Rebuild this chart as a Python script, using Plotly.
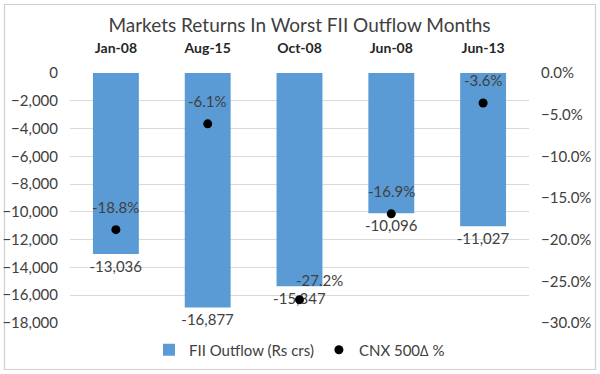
import plotly.graph_objects as go

categories = ["Jan-08", "Aug-15", "Oct-08", "Jun-08", "Jun-13"]
fii_outflow = [-13036, -16877, -15347, -10096, -11027]
cnx_change = [-18.8, -6.1, -27.2, -16.9, -3.6]

W, H = 600, 374
ML, MR, MT, MB = 70, 71, 73, 51
PW, PH = W - ML - MR, H - MT - MB

FONT = "Lato, Open Sans, sans-serif"
TXT = "#404040"
FS = 15

fig = go.Figure()
fig.add_trace(go.Bar(
    x=categories, y=fii_outflow, name="FII Outflow (Rs crs)",
    marker=dict(color="#5B9BD5", line=dict(width=0)), width=0.5,
    text=[f"{v:,}" for v in fii_outflow], textposition="outside",
    constraintext="none",
    textfont=dict(size=FS, color=TXT, family=FONT), cliponaxis=False,
))
fig.add_trace(go.Scatter(
    x=categories, y=cnx_change, name="CNX 500\u2206 %", yaxis="y2",
    mode="markers", marker=dict(color="black", size=9, symbol="circle"),
    cliponaxis=False,
))

annotations = []
for i, (c, v) in enumerate(zip(categories, cnx_change)):
    xs = 20 if i == 2 else 0
    ys = 20 if i == 2 else 23
    annotations.append(dict(x=c, y=v, xref="x", yref="y2", text=f"{v:.1f}%",
                            showarrow=False, xshift=xs, yshift=ys,
                            font=dict(size=FS, color=TXT, family=FONT)))

def px(x):
    return (x - ML) / PW

def py(y):
    return (H - MB - y) / PH

fig.update_layout(
    width=W, height=H,
    margin=dict(l=ML, r=MR, t=MT, b=MB, autoexpand=False),
    paper_bgcolor="white", plot_bgcolor="white",
    font=dict(family=FONT, color=TXT, size=FS),
    title=dict(text="Markets Returns In Worst FII Outflow Months",
               x=0.5, xref="paper", xanchor="center", y=1 - 25 / H, yanchor="middle",
               font=dict(size=19, color=TXT, family=FONT)),
    bargap=0.5,
    xaxis=dict(side="top", showgrid=False, showline=False, ticks="", automargin=False,
               tickfont=dict(size=14, color="#262626", family=FONT, weight="bold"),
               ticklabelstandoff=16),
    yaxis=dict(range=[-18000, 0], dtick=2000, tickformat=",d", showgrid=True,
               gridcolor="#D9D9D9", gridwidth=1, zeroline=False, showline=False,
               ticks="", ticklabelstandoff=11, automargin=False,
               tickfont=dict(size=FS, color=TXT)),
    yaxis2=dict(range=[-30, 0], dtick=5, tickformat=".1f", ticksuffix="%",
                overlaying="y", side="right", showgrid=False, zeroline=False,
                showline=False, ticks="", ticklabelstandoff=11, automargin=False,
                tickfont=dict(size=FS, color=TXT)),
    legend=dict(orientation="h", x=0.5, xanchor="center", y=py(350), yanchor="middle",
                font=dict(size=FS, color=TXT), itemwidth=30, bgcolor="rgba(0,0,0,0)"),
    showlegend=True,
    annotations=annotations,
    shapes=[dict(type="rect", xref="paper", yref="paper",
                 x0=px(4.5), x1=px(595.5), y0=py(369.5), y1=py(4.5),
                 line=dict(color="#D0D0D0", width=1.2), layer="below")],
)

fig.write_html("out.html", config={"displayModeBar": False},
               post_script="document.body.style.margin='0';document.body.style.padding='0';")
